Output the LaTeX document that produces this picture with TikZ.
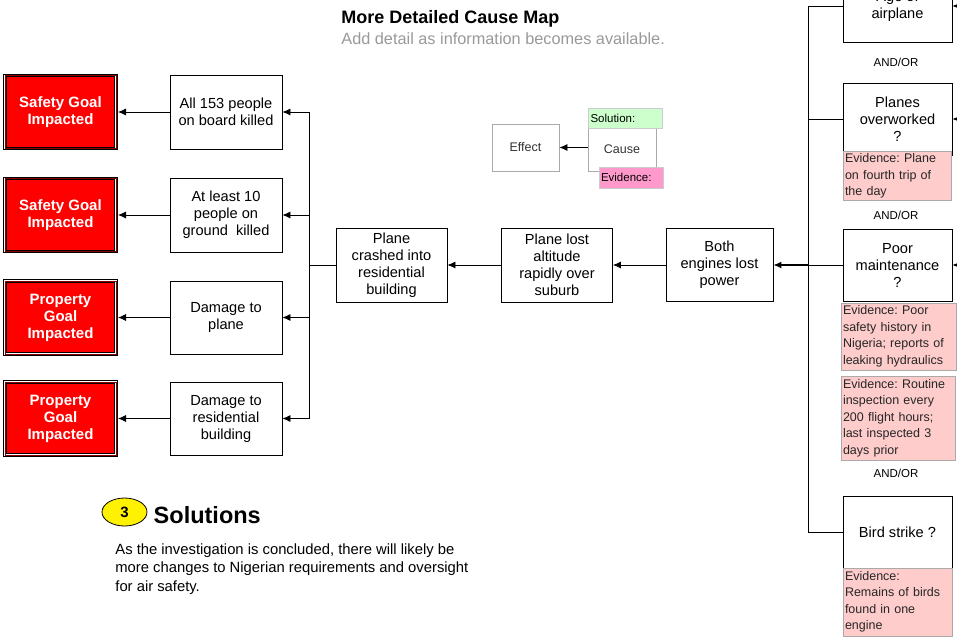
\documentclass[tikz,border=0pt]{standalone}
\usepackage{fontspec}
\setmainfont{Liberation Sans}
\usetikzlibrary{arrows.meta,shapes.geometric}
\definecolor{evpink}{HTML}{FFCCCC}
\definecolor{solgreen}{HTML}{CCFFCC}
\definecolor{evmagenta}{HTML}{FF99CC}
\definecolor{lggray}{HTML}{AAAAAA}
\frenchspacing
\tikzset{
  box_n/.style = {draw=black, fill=white, align=center, inner sep=2pt,
    font=\fontsize{14.6}{17}\selectfont},
  goal_n/.style = {draw=black, line width=1pt, double=white, double distance=1.4pt, fill=red,
    text=white, align=center, minimum width=111pt, minimum height=73pt,
    font=\fontsize{15}{17}\selectfont\bfseries,
    postaction={draw=red!55!black, line width=0.6pt, double=none, inner sep=0pt}},
  cause_n/.style = {box_n, minimum width=109pt, minimum height=72pt},
  ev_n/.style = {draw=lggray, fill=evpink, align=left, inner sep=2pt,
    text=black!85, font=\fontsize{12.5}{16.5}\selectfont},
  andor_n/.style = {font=\fontsize{11.5}{14}\selectfont},
  lg_n/.style = {draw=lggray, fill=white, align=center, text=black!80,
    font=\fontsize{12.5}{15}\selectfont}}

\begin{document}
\begin{tikzpicture}[>={Latex[length=8pt,width=7pt]}, x=1pt, y=-1pt, line width=0.8pt]
\useasboundingbox (0,0) rectangle (957,638);
\clip (0,0) rectangle (957,638);

% heading and legend
\node[anchor=west, inner sep=0pt, font=\fontsize{18}{20}\selectfont\bfseries] (title) at (341,19) {More Detailed Cause Map};
\node[anchor=west, inner sep=0pt, text=black!40, font=\fontsize{16.3}{18}\selectfont] (subtitle) at (341,39) {Add detail as information becomes available.};

\node[lg_n, minimum width=67pt, minimum height=47pt] (lg_eff) at (525.5,147.5) {Effect};
\node[lg_n, minimum width=68pt, minimum height=43pt] (lg_cause) at (622,149.5) {Cause};
\node[draw=lggray!60, fill=solgreen, align=left, text width=70pt, minimum height=20pt, inner sep=2pt,
  font=\fontsize{11.5}{14}\selectfont] (lg_sol) at (625.5,118) {Solution:};
\node[draw=lggray!60, fill=evmagenta, align=left, text width=60pt, minimum height=21pt, inner sep=2pt,
  font=\fontsize{11.5}{14}\selectfont] (lg_ev) at (631,177.5) {Evidence:};
\draw[->] (lg_cause.west |- lg_eff.east) -- (lg_eff.east);

% goals and effects
\node[goal_n] (g1) at (60.5,112) {Safety Goal\\Impacted};
\node[goal_n] (g2) at (60.5,215) {Safety Goal\\Impacted};
\node[goal_n] (g3) at (60.5,317.5) {Property\\Goal\\Impacted};
\node[goal_n] (g4) at (60.5,418.5) {Property\\Goal\\Impacted};

\node[box_n, minimum width=112pt, minimum height=74pt] (e1) at (226,112) {All 153 people\\on board killed};
\node[box_n, minimum width=112pt, minimum height=74pt] (e2) at (226,215) {At least 10\\people on\\ground\ \ killed};
\node[box_n, minimum width=112pt, minimum height=73pt] (e3) at (226,317.5) {Damage to\\plane};
\node[box_n, minimum width=112pt, minimum height=73pt] (e4) at (226,418.5) {Damage to\\residential\\building};

\foreach \i in {1,...,4}
  \draw[->] (e\i.west) -- ([xshift=1.5pt]g\i.east);

% main chain
\node[box_n, minimum width=111pt, minimum height=74pt] (crash) at (391.5,265) {Plane\\crashed into\\residential\\building};
\node[box_n, minimum width=111pt, minimum height=74pt] (alt) at (557,265) {Plane lost\\altitude\\rapidly over\\suburb};
\node[box_n, minimum width=107pt, minimum height=73pt] (eng) at (719.5,265) {Both\\engines lost\\power};

\coordinate (busL) at (309,265);
\draw (crash.west) -- (busL);
\foreach \i in {1,...,4}
  \draw[->] (busL) |- (e\i.east);
\draw[->] (alt.west) -- (crash.east);
\draw[->] (eng.west) -- (alt.east);

% causes on the right
\node[cause_n] (age) at (897.5,6) {Age of\\airplane};
\node[cause_n] (over) at (897.5,119) {Planes\\overworked\\?};
\node[cause_n] (maint) at (897.5,265) {Poor\\maintenance\\?};
\node[cause_n] (bird) at (897.5,532) {Bird strike ?};

\node[andor_n] (ao1) at (896,62) {AND/OR};
\node[andor_n] (ao2) at (896,215) {AND/OR};
\node[andor_n] (ao3) at (896,473) {AND/OR};

\node[ev_n, text width=104pt, minimum height=48pt] (ev1) at (897,176) {Evidence: Plane\\on fourth trip of\\the day};
\node[ev_n, text width=111pt, minimum height=67pt] (ev2) at (898.5,336.5) {Evidence: Poor\\safety history in\\Nigeria; reports of\\leaking hydraulics};
\node[ev_n, text width=110pt, minimum height=84pt] (ev3) at (898,418) {Evidence: Routine\\inspection every\\200 flight hours;\\last inspected 3\\days prior};
\node[ev_n, text width=105pt, minimum height=68pt] (ev4) at (897.5,602) {Evidence:\\Remains of birds\\found in one\\engine};

\coordinate (busR) at (808,265);
\draw[->, line width=1.3pt] (busR) -- (eng.east);
\draw (busR) |- (age.west);
\draw (busR) |- (over.west);
\draw (busR) -- (maint.west);
\draw (busR) |- (bird.west);

\coordinate (inAge) at (968,6);
\coordinate (inOver) at (968,119);
\coordinate (inMaint) at (968,265);
\draw[->] (inAge) -- (age.east);
\draw[->] (inOver) -- (over.east);
\draw[->] (inMaint) -- (maint.east);

% solutions
\node[ellipse, draw=black, fill=yellow, minimum width=45pt, minimum height=28pt, inner sep=0pt,
  font=\fontsize{15}{17}\selectfont\bfseries] (num) at (124.5,512) {3};
\node[anchor=west, font=\fontsize{23.5}{26}\selectfont\bfseries] (soltitle) at (150,515) {Solutions};
\node[anchor=north west, align=left, inner sep=0pt, font=\fontsize{14.8}{18.5}\selectfont] (soltext) at (115,543)
  {As the investigation is concluded, there will likely be\\more changes to Nigerian requirements and oversight\\for air safety.};
\end{tikzpicture}
\end{document}
